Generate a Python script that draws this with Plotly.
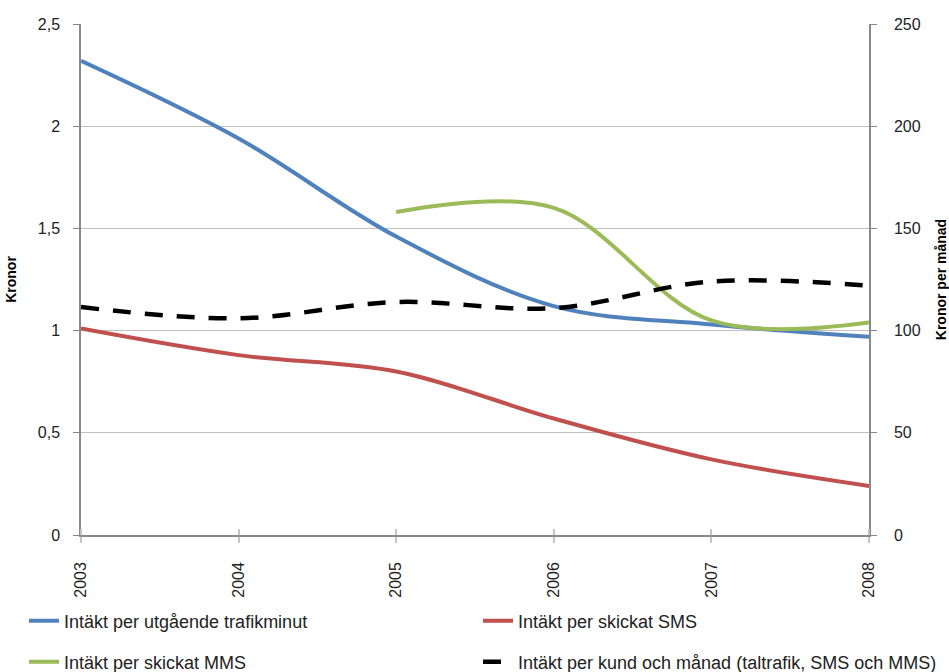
import plotly.graph_objects as go

years = [2003, 2004, 2005, 2006, 2007, 2008]
min_rev = [2.32, 1.94, 1.46, 1.12, 1.03, 0.97]
sms_rev = [1.01, 0.88, 0.80, 0.57, 0.37, 0.24]
mms_years = [2005, 2006, 2007, 2008]
mms_rev = [1.58, 1.60, 1.05, 1.04]
cust_rev = [111.5, 106, 114, 111, 124, 122]

names = [
    "Intäkt per utgående trafikminut",
    "Intäkt per skickat SMS",
    "Intäkt per skickat MMS",
    "Intäkt per kund och månad (taltrafik, SMS och MMS)",
]

LFONT = dict(family="Liberation Sans Narrow, Arial Narrow, Liberation Sans, sans-serif", size=18, color="#222")

fig = go.Figure()
fig.add_trace(go.Scatter(x=years, y=min_rev, name=names[0], mode="lines",
                         line=dict(color="#4F81BD", width=4, shape="spline", smoothing=1),
                         legend="legend", showlegend=True))
fig.add_trace(go.Scatter(x=years, y=sms_rev, name=names[1], mode="lines",
                         line=dict(color="#C0504D", width=4, shape="spline", smoothing=1),
                         legend="legend2", showlegend=True))
fig.add_trace(go.Scatter(x=mms_years, y=mms_rev, name=names[2], mode="lines",
                         line=dict(color="#9BBB59", width=4, shape="spline", smoothing=1),
                         legend="legend3", showlegend=True))
fig.add_trace(go.Scatter(x=years, y=cust_rev, name=names[3], mode="lines", yaxis="y2",
                         line=dict(color="black", width=4.5, shape="spline", smoothing=1,
                                   dash="18px,14px"),
                         legend="legend4", showlegend=True))

tickfont = dict(family="Liberation Sans, Arial, sans-serif", size=16, color="#222")
W, H = 949, 672


def leg(px, py):
    return dict(xref="container", yref="container", x=px / W, y=1 - py / H,
                xanchor="left", yanchor="middle", font=LFONT, itemwidth=30,
                bgcolor="rgba(0,0,0,0)", orientation="h")


fig.update_layout(
    width=W, height=H,
    showlegend=True,
    margin=dict(l=81, r=80, t=24, b=137, autoexpand=False),
    plot_bgcolor="white", paper_bgcolor="white",
    xaxis=dict(range=[2003, 2008], tickvals=years, ticktext=[str(y) for y in years],
               tickangle=-90, tickfont=tickfont, showgrid=False,
               showline=True, linecolor="#888", linewidth=1.5,
               ticks="outside", ticklen=6, tickcolor="#c4c4c4", tickwidth=2, zeroline=False,
               minor=dict(ticks="inside", tick0=2003, dtick=1, ticklen=6, tickcolor="#c4c4c4",
                          tickwidth=2, showgrid=False),
               ticklabelstandoff=13, automargin=False),
    yaxis=dict(range=[0, 2.5], tickvals=[0, 0.5, 1, 1.5, 2, 2.5],
               ticktext=["0", "0,5", "1", "1,5", "2", "2,5"], tickfont=tickfont,
               showgrid=True, gridcolor="#C0C0C0", gridwidth=1.2,
               showline=True, linecolor="#888", linewidth=1.5,
               ticks="outside", ticklen=6, tickcolor="#888", zeroline=False,
               ticklabelstandoff=10, automargin=False,
               title=dict(text="<b>Kronor</b>", font=dict(family="Liberation Sans, Arial", size=14, color="black"),
                          standoff=18)),
    yaxis2=dict(range=[0, 250], tickvals=[0, 50, 100, 150, 200, 250], overlaying="y", side="right",
                tickfont=tickfont, showgrid=False,
                showline=True, linecolor="#888", linewidth=1.5,
                ticks="outside", ticklen=6, tickcolor="#888", zeroline=False,
                ticklabelstandoff=14, automargin=False,
                title=dict(text="<b>Kronor per månad</b>", font=dict(family="Liberation Sans, Arial", size=14, color="black"),
                           standoff=22)),
    legend=leg(24, 621),
    legend2=leg(478, 621),
    legend3=leg(24, 662),
    legend4=leg(478, 662),
)

fig.write_html("out.html")
